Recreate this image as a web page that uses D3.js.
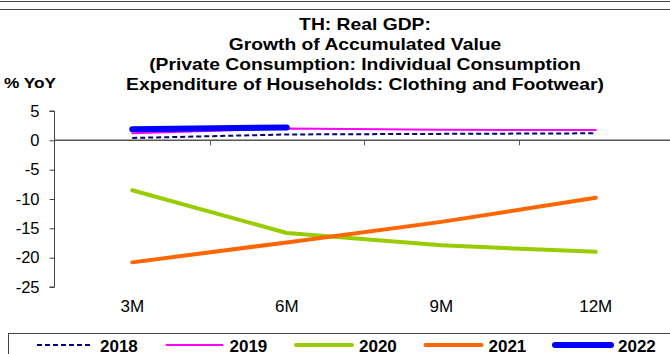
<!DOCTYPE html>
<html>
<head>
<meta charset="utf-8">
<script src="https://cdn.jsdelivr.net/npm/d3@7"></script>
<style>
  body { margin: 0; background: #fff; }
  svg { display: block; font-family: "Liberation Sans", Arial, sans-serif; }
</style>
</head>
<body>
<svg id="chart"></svg>
<script>
'use strict';

var categories = ["3M", "6M", "9M", "12M"];
var yTicks = [5, 0, -5, -10, -15, -20, -25];

var s2018 = [0.4, 1.0, 1.1, 1.2];
var s2019 = [1.2, 2.0, 1.8, 1.75];
var s2020 = [-8.5, -15.8, -17.9, -19.0];
var s2021 = [-20.8, -17.4, -13.9, -9.8];
var s2022 = [1.9, 2.2];

var titleLines = [
  "TH: Real GDP:",
  "Growth of Accumulated Value",
  "(Private Consumption: Individual Consumption",
  "Expenditure of Households: Clothing and Footwear)"
];

var series = [
  { name: "2018", values: s2018, color: "#000080", width: 2, dash: "5,3" },
  { name: "2019", values: s2019, color: "#ff00ff", width: 2, dash: null },
  { name: "2020", values: s2020, color: "#99cc00", width: 4, dash: null },
  { name: "2021", values: s2021, color: "#ff6600", width: 4, dash: null },
  { name: "2022", values: s2022, color: "#0000ff", width: 6, dash: null }
];

var svgWidth = 670,
    svgHeight = 354;

var svg = d3.select('#chart')
    .attr("width", svgWidth)
    .attr("height", svgHeight);

// top rules
svg.append("line").attr("x1", 0).attr("x2", svgWidth).attr("y1", 1.5).attr("y2", 1.5)
    .attr("stroke", "#444").attr("stroke-width", 1);
svg.append("line").attr("x1", 0).attr("x2", svgWidth).attr("y1", 9.5).attr("y2", 9.5)
    .attr("stroke", "#444").attr("stroke-width", 1);

// title (text in the picture is a little wider than plain Arial)
svg.append("g")
    .attr("transform", "translate(365,0) scale(1.17,1)")
    .selectAll("text")
    .data(titleLines)
    .enter().append("text")
    .attr("x", 0)
    .attr("y", function (d, i) { return 30 + i * 20; })
    .attr("text-anchor", "middle")
    .attr("font-size", "16.5px")
    .attr("font-weight", "bold")
    .text(function (d) { return d; });

svg.append("text")
    .attr("transform", "translate(4,88) scale(1.15,1)")
    .attr("font-size", "15px")
    .attr("font-weight", "bold")
    .text("% YoY");

var x = d3.scalePoint().domain(categories).range([55, 673]).padding(0.5);
var y = d3.scaleLinear().domain([-25, 5]).range([287, 111]);

// y axis
var yAxis = svg.append("g")
    .attr("class", "axis y")
    .attr("transform", "translate(54.5,0)")
    .call(d3.axisLeft(y).tickValues(yTicks).tickSize(5).tickPadding(10).tickFormat(d3.format("d")));
yAxis.select(".domain").attr("stroke", "#444").attr("d", "M-5," + y(5) + "H0V" + y(-25) + "H-5");
yAxis.selectAll(".tick line").attr("stroke", "#444");
yAxis.selectAll(".tick text")
    .attr("font-size", "16.5px")
    .attr("font-family", "'Liberation Sans', Arial, sans-serif")
    .attr("fill", "#000")
    .text(function (d) { return d < 0 ? "-" + Math.abs(d) : d; });

// x axis at zero with ticks between categories
var step = x.step();
var xAxisG = svg.append("g").attr("class", "axis x");
xAxisG.append("line")
    .attr("x1", 54.5).attr("x2", svgWidth)
    .attr("y1", y(0)).attr("y2", y(0))
    .attr("stroke", "#555").attr("stroke-width", 1.5);
xAxisG.selectAll(".tk")
    .data(categories.slice(0, categories.length - 1))
    .enter().append("line")
    .attr("class", "tk")
    .attr("x1", function (d) { return Math.round(x(d) + step / 2) + 0.5; })
    .attr("x2", function (d) { return Math.round(x(d) + step / 2) + 0.5; })
    .attr("y1", y(0)).attr("y2", y(0) + 5)
    .attr("stroke", "#555");
xAxisG.selectAll(".lbl")
    .data(categories)
    .enter().append("text")
    .attr("class", "lbl")
    .attr("x", function (d) { return x(d); })
    .attr("y", 312)
    .attr("text-anchor", "middle")
    .attr("font-size", "17px")
    .text(function (d) { return d; });

// lines
var line = d3.line()
    .x(function (d, i) { return x(categories[i]); })
    .y(function (d) { return y(d); });

svg.append("g").selectAll("path")
    .data(series)
    .enter().append("path")
    .attr("fill", "none")
    .attr("stroke", function (d) { return d.color; })
    .attr("stroke-width", function (d) { return d.width; })
    .attr("stroke-dasharray", function (d) { return d.dash; })
    .attr("stroke-linecap", function (d) { return d.dash ? "butt" : "round"; })
    .attr("stroke-linejoin", "round")
    .attr("d", function (d) { return line(d.values); });

// legend
var legend = svg.append("g").attr("class", "legend");
legend.append("rect")
    .attr("x", 8.5).attr("y", 333.5)
    .attr("width", 700).attr("height", 40)
    .attr("fill", "none").attr("stroke", "#444");

var item = legend.selectAll(".item")
    .data(series)
    .enter().append("g")
    .attr("class", "item")
    .attr("transform", function (d, i) { return "translate(" + (37 + i * 129.5) + ",345)"; });
item.append("line")
    .attr("x1", 0).attr("x2", 56)
    .attr("stroke", function (d) { return d.color; })
    .attr("stroke-width", function (d) { return d.width; })
    .attr("stroke-dasharray", function (d) { return d.dash; })
    .attr("stroke-linecap", function (d) { return d.dash ? "butt" : "round"; });
item.append("text")
    .attr("x", 63)
    .attr("y", 6.5)
    .attr("font-size", "17px")
    .attr("font-weight", "bold")
    .text(function (d) { return d.name; });
</script>
</body>
</html>
